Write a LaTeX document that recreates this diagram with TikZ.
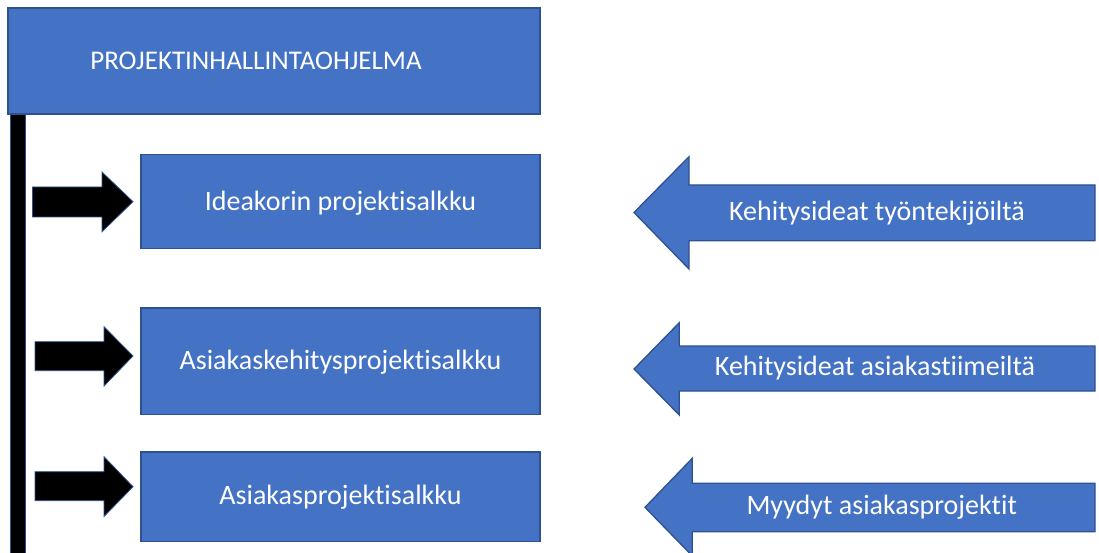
\documentclass[tikz,border=0pt]{standalone}
\usepackage{fontspec}
\setmainfont{Carlito}[Ligatures=NoCommon]
\definecolor{boxblue}{HTML}{4472C4}
\definecolor{edgeblue}{HTML}{2F528F}
\begin{document}
\begin{tikzpicture}[x=1pt,y=-1pt,
  bluebox/.style={draw=edgeblue,fill=boxblue,line width=1.3pt},
  boxtext/.style={text=white,font=\fontsize{28}{32}\selectfont},
  blackarrow/.style={draw=edgeblue,fill=black,line width=0.8pt,line join=miter},
  bluearrow/.style={draw=edgeblue,fill=boxblue,line width=1.3pt,line join=miter}]
\useasboundingbox (0,0) rectangle (1099,553);
% title box
\path[bluebox] (8,8) rectangle (540,114);
\node[text=white,font=\fontsize{27}{32}\selectfont] (title) at (256,61) {PROJEKTINHALLINTAOHJELMA};
% vertical black bar
\path[blackarrow] (10,114) rectangle (25,556);
% boxes
\path[bluebox] (141,154.5) rectangle (540,248.5);
\node[boxtext] (b1) at (340.5,203) {Ideakorin projektisalkku};
\path[bluebox] (141,308) rectangle (540,414.5);
\node[boxtext] (b2) at (340.5,362) {Asiakaskehitysprojektisalkku};
\path[bluebox] (141,452) rectangle (540,541.5);
\node[boxtext] (b3) at (340.5,497) {Asiakasprojektisalkku};
% black arrows
\path[blackarrow] (32.5,187) -- (102,187) -- (102,172) -- (133,201.7) -- (102,231.7) -- (102,217) -- (32.5,217) -- cycle;
\path[blackarrow] (35,341.7) -- (104,341.7) -- (104,326.7) -- (133,356) -- (104,386) -- (104,370.7) -- (35,370.7) -- cycle;
\path[blackarrow] (35,471.7) -- (104,471.7) -- (104,456.7) -- (133,486.7) -- (104,516.5) -- (104,500.7) -- (35,500.7) -- cycle;
% blue arrows
\path[bluearrow] (1095,185) -- (689,185) -- (689,156.7) -- (634,212.5) -- (689,269) -- (689,240.7) -- (1095,240.7) -- cycle;
\node[boxtext] (a1) at (877,213) {Kehitysideat työntekijöiltä};
\path[bluearrow] (1095,346) -- (679.3,346) -- (679.3,322.7) -- (634,369) -- (679.3,415) -- (679.3,391) -- (1095,391) -- cycle;
\node[boxtext] (a2) at (875,368.5) {Kehitysideat asiakastiimeiltä};
\path[bluearrow] (1095,483.3) -- (692.3,483.3) -- (692.3,458.3) -- (645,507.3) -- (692.3,556) -- (692.3,531.7) -- (1095,531.7) -- cycle;
\node[boxtext] (a3) at (881.7,507.5) {Myydyt asiakasprojektit};
\end{tikzpicture}
\end{document}
